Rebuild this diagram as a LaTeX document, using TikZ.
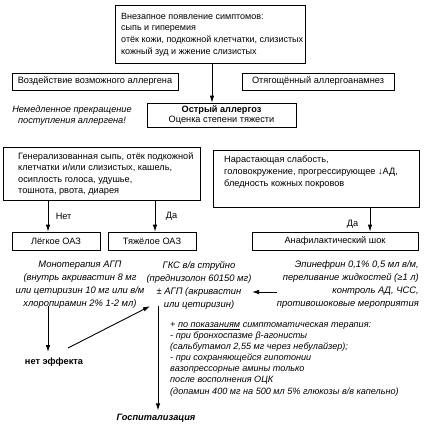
\documentclass[tikz,border=0pt]{standalone}
\usepackage{fontspec}
\setmainfont{Liberation Sans}
\usetikzlibrary{arrows.meta}
\newcommand\fs{\fontsize{9.2}{11.6}\selectfont}
\newcommand\fst{\fontsize{9.4}{13}\selectfont}
\newcommand\fsy{\fontsize{9.1}{11.1}\selectfont}
\begin{document}
\begin{tikzpicture}[x=1pt,y=-1pt,
  every node/.style={font=\fs},
  box/.style={draw, line width=0.7pt, inner sep=0pt},
  itx/.style={font=\fst\itshape},
  arr/.style={-{Latex[length=7pt,width=4.5pt]}, line width=0.9pt}]
\useasboundingbox (0,0) rectangle (424,425);
% top
\node[box, minimum width=190pt, minimum height=58pt] (sym) at (210,34) {};
\node[anchor=west, align=left, inner sep=0pt, font=\fontsize{9}{11.7}\selectfont] (symtxt) at (121,34.5)
 {Внезапное появление симптомов:\\сыпь и гиперемия\\отёк кожи, подкожной клетчатки, слизистых\\кожный зуд и жжение слизистых};
\node[box, minimum width=166pt, minimum height=17pt] (expo) at (95,81.5) {Воздействие возможного аллергена};
\node[box, minimum width=152pt, minimum height=17pt] (hist) at (318,81.5) {Отягощённый аллергоанамнез};
\node[box, minimum width=149pt, minimum height=24pt, align=center, font=\fontsize{9.2}{10.5}\selectfont] (acute) at (221.5,115) {\textbf{Острый аллергоз}\\Оценка степени тяжести};
\node[align=center, font=\fontsize{9.2}{11}\selectfont\itshape] (stop) at (72,116) {Немедленное прекращение\\поступления аллергена!};
\draw[arr] (sym.south -| 212,0) -- (acute.north -| 212,0);
% big boxes
\node[box, minimum width=197pt, minimum height=53pt] (gen) at (101.5,173.5) {};
\node[anchor=west, align=left, inner sep=0pt] (gentxt) at (18,174)
 {Генерализованная сыпь, отёк подкожной\\клетчатки и/или слизистых, кашель,\\осиплость голоса, удушье,\\тошнота, рвота, диарея};
\node[box, minimum width=206pt, minimum height=57pt] (shockbox) at (316,178.5) {};
\node[anchor=north west, align=left, inner sep=0pt] (shocktxt) at (224,156)
 {Нарастающая слабость,\\головокружение, прогрессирующее ↓АД,\\бледность кожных покровов};
% small boxes
\node[box, minimum width=88pt, minimum height=18pt] (mild) at (56,241) {Лёгкое ОАЗ};
\node[box, minimum width=88pt, minimum height=18pt] (severe) at (152,241) {Тяжёлое ОАЗ};
\node[box, minimum width=166pt, minimum height=18pt] (shock) at (335,241) {Анафилактический шок};
\draw[arr] (gen.south -| 48,0) -- (mild.north -| 48,0) node[midway, anchor=west, xshift=4pt] {Нет};
\draw[arr] (gen.south -| 155,0) -- (severe.north -| 155,0) node[midway, anchor=west, xshift=7pt] {Да};
\draw[arr] (shockbox.south -| 370,0) -- (shock.north -| 370,0) node[pos=0.7, anchor=east, xshift=-8pt] {Да};
% treatments
\node[itx, align=center, inner sep=0pt] (mono) at (80,285) {Монотерапия АГП\\(внутрь акривастин 8 мг\\или цетиризин 10 мг или в/м\\хлоропирамин 2\% 1-2 мл)};
\node[itx, align=center, inner sep=0pt] (gks) at (199,285) {ГКС в/в струйно\\(преднизолон 60150 мг)\\± АГП (акривастин\\или цетиризин)};
\node[itx, align=right, anchor=east, inner sep=0pt] (epi) at (419,285) {Эпинефрин 0,1\% 0,5 мл в/м,\\переливание жидкостей (≥1 л)\\контроль АД, ЧСС,\\противошоковые мероприятия};
\coordinate (epiarr) at (277,292);
\coordinate (gksarr) at (252,292);
\draw[arr] (epiarr) -- (gksarr);
\node[font=\fs\bfseries] (noeff) at (54,362) {нет эффекта};
\draw[arr] ([yshift=3pt]mono.south -| 48,0) -- (48,352);
\coordinate (diagS) at (68,348);
\draw[arr] (diagS) -- ([yshift=3pt]gks.south -| 150,0);
\node[font=\fsy\itshape, align=left, anchor=north west, inner sep=0pt] (sympt) at (170,322)
 {+ \underline{по показаниям} симптоматическая терапия:\\- при бронхоспазме β-агонисты\\(сальбутамол 2,55 мг через небулайзер);\\- при сохраняющейся гипотонии\\вазопрессорные амины только\\после восполнения ОЦК\\(допамин 400 мг на 500 мл 5\% глюкозы в/в капельно)};
\node[font=\fs\bfseries\itshape] (hosp) at (156,418) {Госпитализация};
\draw[arr] ([yshift=3pt]gks.south -| 158,0) -- (hosp.north -| 158,0);
\end{tikzpicture}
\end{document}
